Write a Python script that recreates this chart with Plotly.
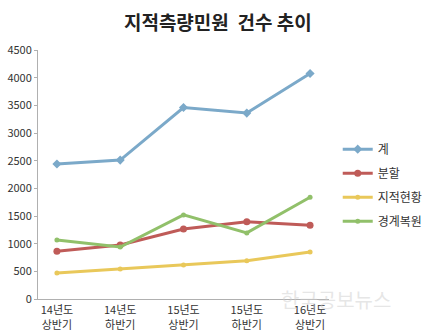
import plotly.graph_objects as go

categories = ["14년도<br>상반기", "14년도<br>하반기", "15년도<br>상반기", "15년도<br>하반기", "16년도<br>상반기"]
total = [2440, 2510, 3460, 3360, 4075]
split = [865, 975, 1265, 1395, 1335]
status = [470, 540, 615, 690, 850]
boundary = [1065, 940, 1520, 1195, 1840]
y_ticks = [0, 500, 1000, 1500, 2000, 2500, 3000, 3500, 4000, 4500]

FONT = "Noto Sans CJK KR"

series = [
    ("계", total, "#7ba9c9", "diamond", 7),
    ("분할", split, "#bf5b58", "circle", 7),
    ("지적현황", status, "#e9c85a", "circle", 5),
    ("경계복원", boundary, "#91c06a", "circle", 5),
]

fig = go.Figure()
for name, vals, color, sym, size in series:
    fig.add_trace(go.Scatter(
        x=categories, y=vals, name=name, mode="lines+markers", legendgroup=name,
        line=dict(color=color, width=3),
        marker=dict(color=color, symbol=sym, size=size),
    ))

fig.update_layout(
    width=440, height=335,
    margin=dict(l=38, r=97, t=50, b=36),
    paper_bgcolor="white", plot_bgcolor="white",
    font=dict(family=FONT, size=11, color="#333333"),
    title=dict(text="<b>지적측량민원  건수 추이</b>", x=0.495, xanchor="center",
               y=0.93, yanchor="middle", font=dict(family=FONT, size=19, color="#222222")),
    showlegend=True,
    legend=dict(x=1.03, xanchor="left", y=0.66, yanchor="top",
                font=dict(family=FONT, size=12, color="#333333"),
                tracegroupgap=5, itemwidth=30),
    xaxis=dict(showgrid=False, showline=True, linecolor="#b0b0b0", linewidth=1,
               ticks="", ticklabelstandoff=1, automargin=False,
               tickfont=dict(size=11, color="#333333"), fixedrange=True),
    yaxis=dict(range=[0, 4500], tickvals=y_ticks, showgrid=False, zeroline=False,
               showline=True, linecolor="#b0b0b0", linewidth=1,
               ticks="outside", ticklen=3, tickcolor="#b0b0b0", automargin=False,
               tickfont=dict(size=11, color="#333333"), fixedrange=True),
)

fig.add_annotation(text="한국공보뉴스", xref="paper", yref="paper", x=1.22, y=0.0,
                   xanchor="right", yanchor="middle", showarrow=False,
                   font=dict(family=FONT, size=20, color="rgba(205,205,205,0.5)"))

fig.write_html("out.html")
